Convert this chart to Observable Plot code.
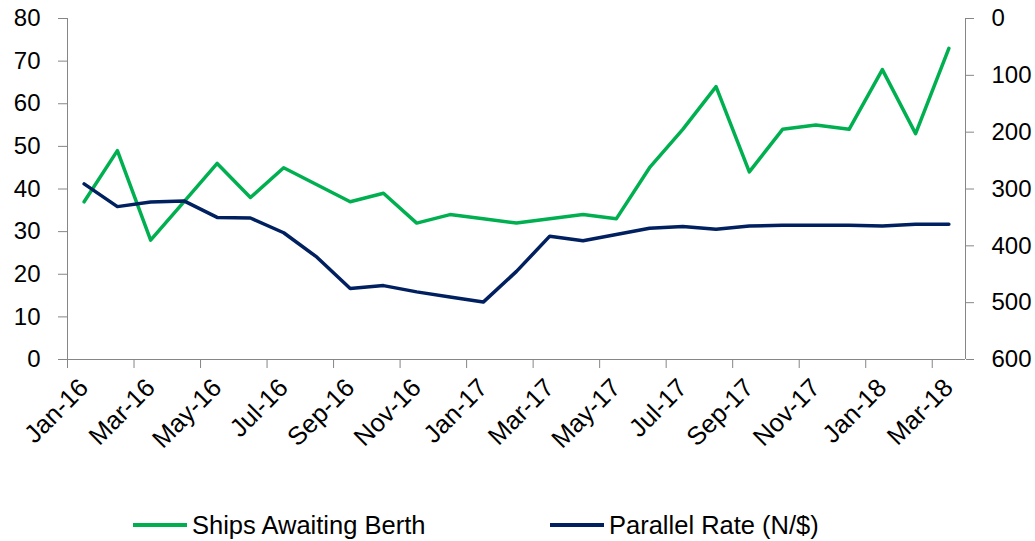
<!DOCTYPE html>
<html><head><meta charset="utf-8">
<script src="https://cdn.jsdelivr.net/npm/d3@7"></script>
<script src="https://cdn.jsdelivr.net/npm/@observablehq/plot@0.6"></script>
<style>
body{margin:0;background:#fff;font-family:"Liberation Sans",Arial,sans-serif;}
#wrap{position:relative;width:1035px;height:541px;overflow:hidden;background:#fff}
.legend{position:absolute;top:512px;display:flex;align-items:center;font-size:25.5px;line-height:26px;color:#000;white-space:nowrap}
.swatch{display:inline-block;width:54px;height:4px;margin-right:5px}
</style></head><body><div id="wrap"></div>
<script>
const months = ["Jan-16","Feb-16","Mar-16","Apr-16","May-16","Jun-16","Jul-16","Aug-16","Sep-16","Oct-16","Nov-16","Dec-16",
  "Jan-17","Feb-17","Mar-17","Apr-17","May-17","Jun-17","Jul-17","Aug-17","Sep-17","Oct-17","Nov-17","Dec-17",
  "Jan-18","Feb-18","Mar-18"];
const ships = [37,49,28,37,46,38,45,41,37,39,32,34,33,32,33,34,33,45,54,64,44,54,55,54,68,53,73];
const rate = [291,331,323,321,350,351,377,420,475,470,481,490,499,445,383,391,380,369,366,371,365,364,364,364,365,362,362];
const leftTicks = [0,10,20,30,40,50,60,70,80];
const rightTicks = [0,100,200,300,400,500,600];
const seriesNames = ["Ships Awaiting Berth","Parallel Rate (N/$)"];
const seriesColors = ["#00B050","#002060"];

const rateToLeft = r => 80 - r / 7.5;
const data = months.map((m, i) => ({pos: i + 0.5, month: m, ships: ships[i], rate: rate[i]}));
const labelPos = months.map((m, i) => i).filter(i => i % 2 === 0).map(i => i + 0.5);
const tickPos = d3.range(0, months.length, 2);

const chart = Plot.plot({
  width: 1035, height: 490,
  marginLeft: 67, marginRight: 70, marginTop: 18, marginBottom: 131,
  style: {fontFamily: "Liberation Sans, Arial, sans-serif", fontSize: "24px", color: "#000", background: "#fff"},
  x: {type: "linear", domain: [0, months.length], axis: null, label: null},
  y: {domain: [0, 80], axis: null, label: null},
  marks: [
    Plot.ruleY([0], {stroke: "#868686", strokeWidth: 1}),
    Plot.ruleX([0], {stroke: "#868686", strokeWidth: 1}),
    Plot.ruleX([months.length], {stroke: "#868686", strokeWidth: 1}),
    Plot.axisY(leftTicks, {anchor: "left", tickSize: 9, tickPadding: 18, stroke: "#868686", fill: "#000", fontSize: 24, label: null}),
    Plot.axisY(rightTicks.map(rateToLeft), {anchor: "right", tickSize: 8, tickPadding: 18, stroke: "#868686", fill: "#000", fontSize: 24, label: null,
      tickFormat: v => String(Math.round((80 - v) * 7.5))}),
    Plot.axisX(tickPos, {anchor: "bottom", tickSize: 9, stroke: "#868686", tickFormat: () => "", label: null}),
    Plot.axisX(labelPos, {anchor: "bottom", tickSize: 0, tickPadding: 24, tickRotate: -45, fill: "#000", fontSize: 25.5, label: null,
      tickFormat: v => months[Math.round(v - 0.5)]}),
    Plot.line(data, {x: "pos", y: "ships", stroke: seriesColors[0], strokeWidth: 3.5}),
    Plot.line(data, {x: "pos", y: d => rateToLeft(d.rate), stroke: seriesColors[1], strokeWidth: 3.5})
  ]
});
const wrap = document.getElementById("wrap");
wrap.appendChild(chart);
const lefts = [133, 550];
seriesNames.forEach((name, k) => {
  const item = document.createElement("div");
  item.className = "legend";
  item.style.left = lefts[k] + "px";
  const sw = document.createElement("span");
  sw.className = "swatch";
  sw.style.background = seriesColors[k];
  item.appendChild(sw);
  item.appendChild(document.createTextNode(name));
  wrap.appendChild(item);
});
</script>
</body></html>
